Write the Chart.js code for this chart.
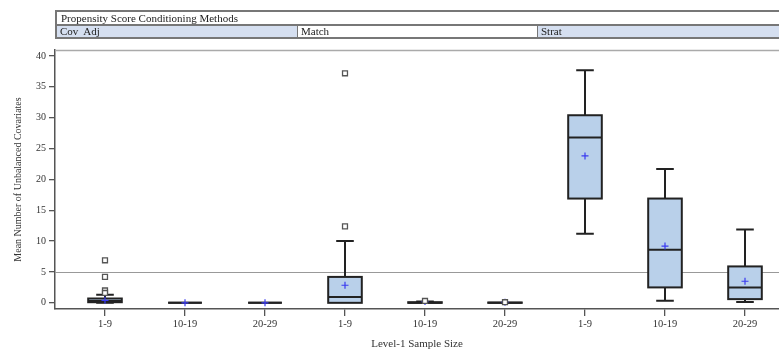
<!DOCTYPE html>
<html>
<head>
<meta charset="utf-8">
<script src="https://cdn.jsdelivr.net/npm/chart.js@4.4.1/dist/chart.umd.min.js"></script>
<style>
  html, body { margin: 0; padding: 0; background: #fff; overflow: hidden; }
  #wrap { position: relative; width: 779px; height: 351px; overflow: hidden; }
  #hdr { position: absolute; left: 55px; top: 10px; width: 740px; font: 11px "Liberation Serif", serif; color: #222; }
  #hdr .title { height: 12px; line-height: 12px; border: 2px solid #777; border-bottom: 1px solid #777; padding-left: 4px; background: #fff; }
  #hdr .row { display: flex; height: 11px; border: 2px solid #777; border-top: 1px solid #777; }
  #hdr .cell { line-height: 11px; padding-left: 3px; border-right: 1px solid #777; box-sizing: border-box; }
  canvas { position: absolute; left: 0; top: 0; }
</style>
</head>
<body>
<div id="wrap">
  <canvas id="c" width="779" height="351"></canvas>
  <div id="hdr">
    <div class="title">Propensity Score Conditioning Methods</div>
    <div class="row">
      <div class="cell" style="width:241px;background:#d5dff0">Cov&nbsp; Adj</div>
      <div class="cell" style="width:240px;background:#fff">Match</div>
      <div class="cell" style="flex:1;background:#d5dff0;border-right:none">Strat</div>
    </div>
  </div>
</div>
<script>
const categories = ["1-9", "10-19", "20-29", "1-9", "10-19", "20-29", "1-9", "10-19", "20-29"];
const whiskerLow = [0, 0, 0, 0, 0, 0, 11.2, 0.35, 0.13];
const q1 = [0.1, 0, 0, 0, 0, 0, 16.9, 2.5, 0.6];
const median = [0.3, 0, 0, 0.95, 0, 0, 26.8, 8.6, 2.5];
const q3 = [0.7, 0, 0, 4.2, 0.1, 0.05, 30.4, 16.9, 5.9];
const whiskerHigh = [1.3, 0, 0, 10.0, 0.2, 0.1, 37.7, 21.7, 11.9];
const means = [0.4, 0, 0, 2.85, 0.2, 0.1, 23.8, 9.2, 3.5];
const outlierCat = [1, 1, 1, 1, 4, 4, 5, 6];
const outlierVal = [6.9, 4.2, 2.0, 1.6, 12.4, 37.2, 0.3, 0.1];
const refValue = 5;

const boxPlugin = {
  id: "boxes",
  beforeDatasetsDraw(chart) {
    const { ctx, chartArea, scales: { x, y } } = chart;
    ctx.save();
    // frame top line
    ctx.strokeStyle = "#aaa";
    ctx.lineWidth = 1.5;
    ctx.beginPath();
    ctx.moveTo(chartArea.left, chartArea.top + 0.5);
    ctx.lineTo(chartArea.right, chartArea.top + 0.5);
    ctx.stroke();
    // reference line at 5
    const ry = Math.round(y.getPixelForValue(refValue)) + 0.5;
    ctx.strokeStyle = "#999";
    ctx.lineWidth = 1;
    ctx.beginPath();
    ctx.moveTo(chartArea.left, ry);
    ctx.lineTo(chartArea.right, ry);
    ctx.stroke();

    categories.forEach((c, i) => {
      const cx = x.getPixelForValue(i + 1);
      const half = x.getPixelForValue(i + 1.21) - cx;
      const cap = x.getPixelForValue(i + 1.11) - cx;
      const yLo = y.getPixelForValue(whiskerLow[i]);
      const yQ1 = y.getPixelForValue(q1[i]);
      const yMed = y.getPixelForValue(median[i]);
      const yQ3 = y.getPixelForValue(q3[i]);
      const yHi = y.getPixelForValue(whiskerHigh[i]);
      ctx.strokeStyle = "#222";
      ctx.lineWidth = 2;
      // whiskers
      ctx.beginPath();
      if (yHi < yQ3 - 0.5) {
        ctx.moveTo(cx, yQ3); ctx.lineTo(cx, yHi);
        ctx.moveTo(cx - cap, yHi); ctx.lineTo(cx + cap, yHi);
      }
      if (yLo > yQ1 + 0.5) {
        ctx.moveTo(cx, yQ1); ctx.lineTo(cx, yLo);
        ctx.moveTo(cx - cap, yLo); ctx.lineTo(cx + cap, yLo);
      }
      ctx.stroke();
      // box
      ctx.fillStyle = "#b9d0ea";
      ctx.fillRect(cx - half, yQ3, half * 2, yQ1 - yQ3);
      ctx.strokeRect(cx - half, yQ3, half * 2, yQ1 - yQ3);
      ctx.beginPath();
      ctx.moveTo(cx - half, yMed); ctx.lineTo(cx + half, yMed);
      ctx.stroke();
    });
    ctx.restore();
  }
};

new Chart(document.getElementById("c"), {
  type: "scatter",
  data: {
    datasets: [
      {
        data: outlierCat.map((c, i) => ({ x: c, y: outlierVal[i] })),
        pointStyle: "rect",
        pointRadius: 3.5,
        borderColor: "#555",
        backgroundColor: "#fff",
        borderWidth: 1.3
      },
      {
        data: means.map((m, i) => ({ x: i + 1, y: m })),
        pointStyle: "cross",
        pointRadius: 3.5,
        borderColor: "#3a3af0",
        borderWidth: 1.2
      }
    ]
  },
  options: {
    responsive: false,
    animation: false,
    events: [],
    layout: { autoPadding: false, padding: { top: 50, right: 0, left: 0, bottom: 0 } },
    plugins: { legend: { display: false }, tooltip: { enabled: false } },
    scales: {
      x: {
        type: "linear",
        min: 0.375,
        max: 9.425,
        afterBuildTicks: (s) => { s.ticks = categories.map((c, i) => ({ value: i + 1 })); },
        afterFit: (s) => { s.height = 42; s.paddingLeft = 0; s.paddingRight = 0; },
        ticks: {
          callback: (v) => categories[v - 1],
          color: "#333",
          font: { family: "Liberation Serif", size: 10.5 },
          padding: 2,
          maxRotation: 0,
          autoSkip: false
        },
        grid: { drawOnChartArea: false, color: "#555", tickLength: 7, lineWidth: 1.3 },
        border: { color: "#555", width: 1.5 },
        title: {
          display: true,
          text: "Level-1 Sample Size",
          color: "#333",
          font: { family: "Liberation Serif", size: 11 },
          padding: { top: 2, bottom: 0 }
        }
      },
      y: {
        min: -1,
        max: 40 + 6 / 6.16,
        afterBuildTicks: (s) => { s.ticks = [0, 5, 10, 15, 20, 25, 30, 35, 40].map(v => ({ value: v })); },
        afterFit: (s) => { s.width = 55; },
        ticks: {
          color: "#333",
          font: { family: "Liberation Serif", size: 10 },
          padding: 3
        },
        grid: { drawOnChartArea: false, color: "#555", tickLength: 6, lineWidth: 1.3 },
        border: { color: "#555", width: 1.5 },
        title: {
          display: true,
          text: "Mean Number of Unbalanced Covariates",
          color: "#333",
          font: { family: "Liberation Serif", size: 10 },
          padding: { top: 12, bottom: 2 }
        }
      }
    }
  },
  plugins: [boxPlugin]
});
</script>
</body>
</html>
